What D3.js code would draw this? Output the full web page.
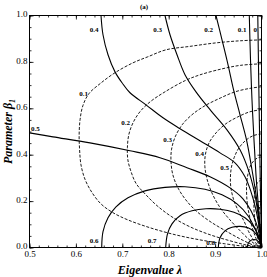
<!DOCTYPE html>
<html>
<head>
<meta charset="utf-8">
<script src="https://cdn.jsdelivr.net/npm/d3@7"></script>
<style>
  body { margin: 0; background: #fff; }
  svg { display: block; }
  text { font-family: "Liberation Serif", "Times New Roman", serif; fill: #000; }
</style>
</head>
<body>
<div id="chart"></div>
<script>
// tick values / labels
var xTickValues = [0.5, 0.6, 0.7, 0.8, 0.9, 1.0];
var xTickLabels = ["0.5", "0.6", "0.7", "0.8", "0.9", "1.0"];
var yTickValues = [0.0, 0.2, 0.4, 0.6, 0.8, 1.0];
var yTickLabels = ["0.0", "0.2", "0.4", "0.6", "0.8", "1.0"];

// solid contours, [lambda, beta1]
var solid_0  = [[0.992,1],[0.994,0.722],[0.996,0.464],[0.998,0.206],[0.9994,0.075],[1,0]];
var solid_01 = [[0.9737,1],[0.9763,0.809],[0.9795,0.637],[0.9838,0.464],[0.9881,0.314],[0.9931,0.184],[0.9972,0.085],[1,0]];
var solid_02 = [[0.9019,1],[0.9149,0.895],[0.9278,0.788],[0.9397,0.680],[0.9537,0.572],[0.9677,0.464],[0.9795,0.335],[0.9892,0.214],[0.9961,0.098],[1,0]];
var solid_03 = [[0.792,1],[0.8028,0.917],[0.8179,0.831],[0.8351,0.745],[0.8588,0.671],[0.8912,0.589],[0.9256,0.507],[0.9537,0.421],[0.9731,0.326],[0.9849,0.236],[0.9925,0.145],[0.9978,0.063],[1,0]];
var solid_04 = [[0.6541,1],[0.6584,0.917],[0.6692,0.831],[0.6843,0.757],[0.6994,0.710],[0.7166,0.667],[0.7511,0.615],[0.7877,0.559],[0.8244,0.512],[0.8675,0.460],[0.9106,0.408],[0.9429,0.365],[0.9644,0.305],[0.9774,0.240],[0.9881,0.162],[0.9957,0.076],[1,0]];
var solid_05 = [[0.5,0.494],[0.5506,0.477],[0.6304,0.451],[0.7166,0.417],[0.7812,0.387],[0.8394,0.344],[0.889,0.305],[0.9321,0.257],[0.9601,0.210],[0.9774,0.158],[0.9892,0.102],[0.9963,0.046],[1,0]];
var solid_06 = [[0.6556,0],[0.6584,0.068],[0.6692,0.128],[0.6864,0.175],[0.7123,0.214],[0.7489,0.244],[0.792,0.259],[0.8351,0.262],[0.8782,0.251],[0.9149,0.227],[0.9472,0.188],[0.9709,0.137],[0.986,0.081],[0.9957,0.033],[1,0]];
var solid_07 = [[0.7935,0],[0.7974,0.059],[0.8071,0.102],[0.8244,0.137],[0.8502,0.158],[0.8804,0.167],[0.9106,0.165],[0.9407,0.152],[0.9644,0.128],[0.9817,0.094],[0.9935,0.051],[1,0]];
var solid_08 = [[0.9069,0],[0.9106,0.042],[0.9213,0.072],[0.9364,0.087],[0.9537,0.091],[0.9709,0.085],[0.9849,0.066],[0.9946,0.037],[1,0]];
var solid_09 = [[0.9688,0],[0.972,0.020],[0.9795,0.033],[0.9881,0.033],[0.9957,0.020],[1,0]];

// dashed contours
var dashed_01 = [[1,0.895],[0.954,0.891],[0.902,0.882],[0.846,0.867],[0.794,0.852],[0.755,0.822],[0.723,0.796],[0.684,0.753],[0.652,0.706],[0.628,0.663],[0.615,0.611],[0.609,0.551],[0.607,0.486],[0.608,0.421],[0.611,0.356],[0.620,0.292],[0.635,0.236],[0.654,0.188],[0.680,0.150],[0.712,0.119],[0.760,0.085],[0.814,0.055],[0.867,0.033],[0.921,0.016],[0.965,0.005],[1,0]];
var dashed_02 = [[1,0.792],[0.954,0.785],[0.915,0.770],[0.867,0.744],[0.835,0.719],[0.792,0.671],[0.760,0.628],[0.738,0.585],[0.723,0.537],[0.714,0.486],[0.711,0.430],[0.712,0.378],[0.719,0.326],[0.730,0.275],[0.751,0.227],[0.775,0.180],[0.807,0.132],[0.846,0.089],[0.889,0.055],[0.932,0.029],[0.971,0.009],[1,0]];
var dashed_03 = [[1,0.693],[0.975,0.686],[0.943,0.671],[0.911,0.644],[0.878,0.611],[0.850,0.572],[0.829,0.529],[0.814,0.477],[0.806,0.421],[0.805,0.369],[0.809,0.313],[0.820,0.257],[0.837,0.205],[0.859,0.158],[0.887,0.115],[0.919,0.076],[0.958,0.033],[0.984,0.009],[1,0]];
var dashed_04 = [[1,0.594],[0.975,0.585],[0.949,0.563],[0.923,0.533],[0.902,0.494],[0.887,0.451],[0.879,0.400],[0.878,0.348],[0.883,0.292],[0.893,0.236],[0.911,0.171],[0.932,0.119],[0.954,0.072],[0.973,0.035],[0.988,0.012],[1,0]];
var dashed_05 = [[1,0.490],[0.982,0.482],[0.965,0.460],[0.950,0.425],[0.941,0.387],[0.935,0.344],[0.933,0.301],[0.934,0.258],[0.940,0.206],[0.949,0.162],[0.962,0.115],[0.972,0.070],[0.982,0.035],[0.991,0.012],[1,0]];
var dashed_06 = [[1,0.391],[0.988,0.382],[0.977,0.356],[0.971,0.318],[0.968,0.275],[0.968,0.227],[0.970,0.180],[0.975,0.128],[0.981,0.080],[0.988,0.040],[0.994,0.014],[1,0]];
var dashed_07 = [[1,0.292],[0.991,0.279],[0.986,0.249],[0.984,0.206],[0.984,0.154],[0.987,0.102],[0.990,0.060],[0.994,0.025],[1,0]];
var dashed_08 = [[1,0.193],[0.996,0.175],[0.994,0.141],[0.994,0.098],[0.996,0.050],[1,0]];
var dashed_09 = [[1,0.094],[0.998,0.07],[0.997,0.04],[0.998,0.015],[1,0]];

var solidCurves  = [solid_0, solid_01, solid_02, solid_03, solid_04, solid_05, solid_06, solid_07, solid_08, solid_09];
var dashedCurves = [dashed_01, dashed_02, dashed_03, dashed_04, dashed_05, dashed_06, dashed_07, dashed_08, dashed_09];

// contour labels: text, lambda, beta1, anchor
var solidLabels = [
  ["0", 0.9903, 0.929, "end"], ["0.1", 0.9677, 0.929, "end"], ["0.2", 0.8955, 0.929, "end"],
  ["0.3", 0.7856, 0.929, "end"], ["0.4", 0.6487, 0.929, "end"], ["0.5", 0.5032, 0.503, "start"],
  ["0.6", 0.6487, 0.020, "end"], ["0.7", 0.7737, 0.020, "end"], ["0.8", 0.8998, 0.012, "end"]
];
var dashedLabels = [
  ["0.1", 0.6261, 0.654], ["0.2", 0.7166, 0.529], ["0.3", 0.8071, 0.456],
  ["0.4", 0.8761, 0.395], ["0.5", 0.9300, 0.335]
];

var margin = {left: 29.5, top: 15.5}, width = 232, height = 232;

var svg = d3.select("#chart").append("svg")
    .attr("width", 267).attr("height", 277);
var g = svg.append("g")
    .attr("transform", "translate(" + margin.left + "," + margin.top + ")");

var x = d3.scaleLinear().domain([0.5, 1]).range([0, width]);
var y = d3.scaleLinear().domain([0, 1]).range([height, 0]);

g.append("clipPath").attr("id", "clip")
  .append("rect").attr("width", width).attr("height", height);

var line = d3.line()
    .x(function(d) { return x(d[0]); })
    .y(function(d) { return y(d[1]); })
    .curve(d3.curveCatmullRom.alpha(0.5));

var plot = g.append("g").attr("clip-path", "url(#clip)");
plot.selectAll("path.solid").data(solidCurves).enter().append("path")
    .attr("class", "solid")
    .attr("d", line)
    .attr("fill", "none").attr("stroke", "#000").attr("stroke-width", 1.1);
plot.selectAll("path.dashed").data(dashedCurves).enter().append("path")
    .attr("class", "dashed")
    .attr("d", line)
    .attr("fill", "none").attr("stroke", "#000").attr("stroke-width", 0.9)
    .attr("stroke-dasharray", "3,1.6");

// axes with inward ticks
function styleAxis(sel) {
    sel.select(".domain").remove();
    sel.selectAll("line").attr("stroke", "#000").attr("stroke-width", 0.8);
    sel.selectAll("text").attr("font-size", 9).style("font-family", '"Liberation Serif", serif');
}
g.append("g").attr("transform", "translate(0," + height + ")")
    .call(d3.axisBottom(x).tickValues(xTickValues).tickFormat(function(d, i) { return xTickLabels[i]; })
        .tickSize(-4).tickSizeOuter(0).tickPadding(3.5)).call(styleAxis);
g.append("g").attr("transform", "translate(0," + height + ")")
    .call(d3.axisBottom(x).ticks(25).tickFormat("").tickSize(-2).tickSizeOuter(0)).call(styleAxis);
g.append("g")
    .call(d3.axisTop(x).tickValues(xTickValues).tickFormat("").tickSize(-4).tickSizeOuter(0)).call(styleAxis);
g.append("g")
    .call(d3.axisTop(x).ticks(25).tickFormat("").tickSize(-2).tickSizeOuter(0)).call(styleAxis);
var yAxisG = g.append("g")
    .call(d3.axisLeft(y).tickValues(yTickValues).tickFormat(function(d, i) { return yTickLabels[i]; })
        .tickSize(-4).tickSizeOuter(0).tickPadding(2)).call(styleAxis);
yAxisG.selectAll("text").attr("dy", "0.15em");
g.append("g")
    .call(d3.axisLeft(y).ticks(20).tickFormat("").tickSize(-2).tickSizeOuter(0)).call(styleAxis);
g.append("g").attr("transform", "translate(" + width + ",0)")
    .call(d3.axisRight(y).tickValues(yTickValues).tickFormat("").tickSize(-4).tickSizeOuter(0)).call(styleAxis);
g.append("g").attr("transform", "translate(" + width + ",0)")
    .call(d3.axisRight(y).ticks(20).tickFormat("").tickSize(-2).tickSizeOuter(0)).call(styleAxis);

g.append("rect").attr("width", width).attr("height", height)
    .attr("fill", "none").attr("stroke", "#000").attr("stroke-width", 1);

// contour labels
g.selectAll("text.slab").data(solidLabels).enter().append("text")
    .attr("class", "slab")
    .attr("x", function(d) { return x(d[1]); })
    .attr("y", function(d) { return y(d[2]); })
    .attr("text-anchor", function(d) { return d[3]; })
    .attr("font-size", 7).attr("font-weight", "bold")
    .text(function(d) { return d[0]; });
g.selectAll("text.dlab").data(dashedLabels).enter().append("text")
    .attr("class", "dlab")
    .attr("x", function(d) { return x(d[1]); })
    .attr("y", function(d) { return y(d[2]); })
    .attr("text-anchor", "end")
    .attr("font-size", 7).attr("font-weight", "bold")
    .text(function(d) { return d[0]; });

// titles
svg.append("text").attr("x", 144).attr("y", 9).attr("text-anchor", "middle")
    .attr("font-size", 7).attr("font-weight", "bold").text("(a)");
svg.append("text").attr("x", 150).attr("y", 274).attr("text-anchor", "middle")
    .attr("font-size", 12).attr("font-weight", "bold").attr("font-style", "italic")
    .text("Eigenvalue λ");
var yt = svg.append("text")
    .attr("transform", "translate(12," + (margin.top + height / 2) + ") rotate(-90)")
    .attr("text-anchor", "middle")
    .attr("font-size", 12).attr("font-weight", "bold").attr("font-style", "italic");
yt.append("tspan").text("Parameter β");
yt.append("tspan").attr("font-size", 8).attr("dy", 2.5).text("1");
</script>
</body>
</html>
